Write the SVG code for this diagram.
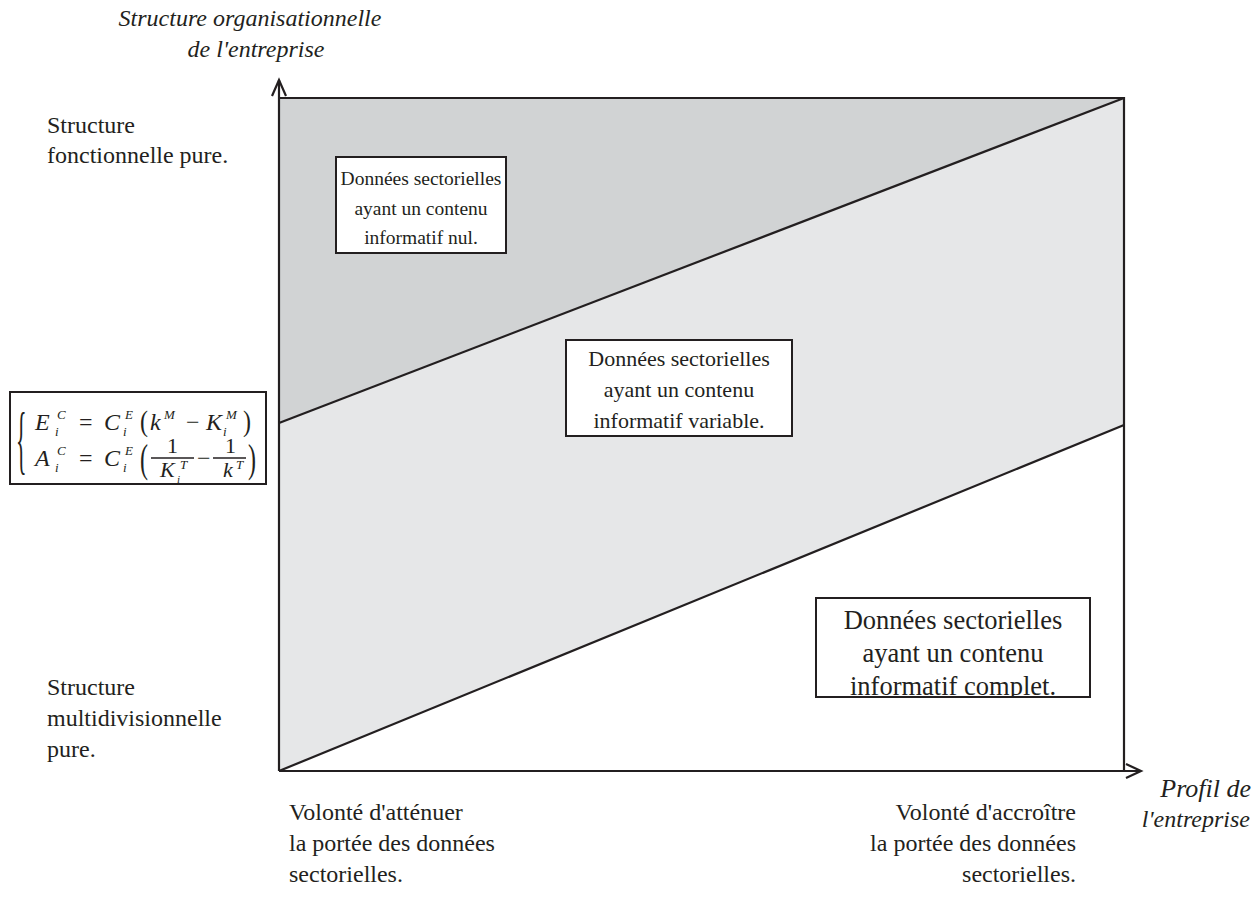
<svg xmlns="http://www.w3.org/2000/svg" width="1254" height="899" viewBox="0 0 1254 899">
<style>
.t{font-family:"Liberation Serif","Times New Roman",serif;font-size:24px;fill:#231f20}
.b1{font-family:"Liberation Serif","Times New Roman",serif;font-size:19.5px;fill:#231f20}
.b2{font-family:"Liberation Serif","Times New Roman",serif;font-size:22px;fill:#231f20}
.b3{font-family:"Liberation Serif","Times New Roman",serif;font-size:26.5px;fill:#231f20}
.ti{font-family:"Liberation Serif","Times New Roman",serif;font-size:24px;font-style:italic;fill:#231f20}
.tp{font-family:"Liberation Serif","Times New Roman",serif;font-size:26px;font-style:italic;fill:#231f20}
.m{font-family:"Liberation Serif","Times New Roman",serif;font-size:24px;font-style:italic;fill:#231f20}
.mf{font-family:"Liberation Serif","Times New Roman",serif;font-size:22px;font-style:italic;fill:#231f20}
.s{font-family:"Liberation Serif","Times New Roman",serif;font-size:13px;font-style:italic;fill:#231f20}
.ss{font-family:"Liberation Serif","Times New Roman",serif;font-size:11px;font-style:italic;fill:#231f20}
.r{font-family:"Liberation Serif","Times New Roman",serif;font-size:24px;fill:#231f20}
.rf{font-family:"Liberation Serif","Times New Roman",serif;font-size:22px;fill:#231f20}
.ln{stroke:#231f20;stroke-width:2.2;fill:none}
.box{fill:#fff;stroke:#231f20;stroke-width:2}
.bar{stroke:#231f20;stroke-width:1.3}
</style>
<defs>
<clipPath id="clip3"><rect x="816" y="598" width="274" height="98"/></clipPath>
</defs>
<rect width="1254" height="899" fill="#fff"/>
<g id="regions">
<polygon points="279,98 1124,98 279,423" fill="#d1d3d4"/>
<polygon points="279,423 1124,98 1124,425 279,771" fill="#e6e7e8"/>
</g>
<g id="connectors">
<line class="ln" x1="279" y1="80" x2="279" y2="771"/>
<polyline class="ln" points="272,96 279,80 286,96"/>
<line class="ln" x1="279" y1="771" x2="1141" y2="771"/>
<polyline class="ln" points="1126,764 1141,771 1126,778"/>
<polyline class="ln" points="279,98 1124,98 1124,771"/>
<line class="ln" x1="279" y1="423" x2="1124" y2="98"/>
<line class="ln" x1="279" y1="771" x2="1124" y2="425"/>
</g>
<g id="axis-y-title">
<text class="ti" x="250" y="26" text-anchor="middle">Structure organisationnelle</text>
<text class="ti" x="256" y="57" text-anchor="middle">de l'entreprise</text>
</g>
<g id="axis-x-title">
<text class="tp" x="1251" y="797" text-anchor="end">Profil de</text>
<text class="ti" x="1250" y="827" text-anchor="end">l'entreprise</text>
</g>
<g id="label-top">
<text class="t" x="47" y="133">Structure</text>
<text class="t" x="47" y="163">fonctionnelle pure.</text>
</g>
<g id="label-bottom">
<text class="t" x="47" y="695">Structure</text>
<text class="t" x="47" y="726">multidivisionnelle</text>
<text class="t" x="47" y="757">pure.</text>
</g>
<g id="label-left-bottom">
<text class="t" x="289" y="820">Volonté d'atténuer</text>
<text class="t" x="289" y="851">la portée des données</text>
<text class="t" x="289" y="882">sectorielles.</text>
</g>
<g id="label-right-bottom">
<text class="t" x="1076" y="820" text-anchor="end">Volonté d'accroître</text>
<text class="t" x="1076" y="851" text-anchor="end">la portée des données</text>
<text class="t" x="1076" y="882" text-anchor="end">sectorielles.</text>
</g>
<g id="box-nul">
<rect class="box" x="336" y="157" width="170" height="96"/>
<text class="b1" x="421" y="185" text-anchor="middle">Données sectorielles</text>
<text class="b1" x="421" y="215" text-anchor="middle">ayant un contenu</text>
<text class="b1" x="421" y="244" text-anchor="middle">informatif nul.</text>
</g>
<g id="box-variable">
<rect class="box" x="566" y="340" width="226" height="96"/>
<text class="b2" x="679" y="366" text-anchor="middle">Données sectorielles</text>
<text class="b2" x="679" y="397" text-anchor="middle">ayant un contenu</text>
<text class="b2" x="679" y="428" text-anchor="middle">informatif variable.</text>
</g>
<g id="box-complet">
<rect class="box" x="816" y="598" width="274" height="99"/>
<g clip-path="url(#clip3)">
<text class="b3" x="953" y="629" text-anchor="middle">Données sectorielles</text>
<text class="b3" x="953" y="662" text-anchor="middle">ayant un contenu</text>
<text class="b3" x="953" y="695" text-anchor="middle">informatif complet.</text>
</g>
</g>
<g id="formula">
<rect class="box" x="10" y="392" width="256" height="92"/>
<text class="rf" transform="translate(16,465) scale(1,3.5)">{</text>
<text class="m" x="35" y="430">E</text>
<text class="s" x="57" y="419">C</text>
<text class="s" x="55" y="436">i</text>
<text class="r" x="79" y="430">=</text>
<text class="m" x="104" y="430">C</text>
<text class="s" x="125" y="419">E</text>
<text class="s" x="123" y="436">i</text>
<text class="r" transform="translate(140,431) scale(1,1.2)">(</text>
<text class="m" x="150" y="430">k</text>
<text class="s" x="164" y="419">M</text>
<text class="r" x="186" y="430">−</text>
<text class="m" x="206" y="430">K</text>
<text class="s" x="226" y="419">M</text>
<text class="s" x="223" y="436">i</text>
<text class="r" transform="translate(243,431) scale(1,1.2)">)</text>
<text class="m" x="35" y="466">A</text>
<text class="s" x="57" y="455">C</text>
<text class="s" x="55" y="472">i</text>
<text class="r" x="79" y="466">=</text>
<text class="m" x="104" y="466">C</text>
<text class="s" x="125" y="455">E</text>
<text class="s" x="123" y="472">i</text>
<text class="r" transform="translate(140,472) scale(1,1.65)">(</text>
<text class="rf" x="167" y="453">1</text>
<line class="bar" x1="151" y1="458" x2="194" y2="458"/>
<text class="mf" x="160" y="477">K</text>
<text class="s" x="180" y="469">T</text>
<text class="ss" x="177" y="483">i</text>
<text class="r" x="197" y="466">−</text>
<text class="rf" x="225" y="453">1</text>
<line class="bar" x1="213" y1="458" x2="246" y2="458"/>
<text class="mf" x="223" y="477">k</text>
<text class="s" x="236" y="469">T</text>
<text class="r" transform="translate(248,472) scale(1,1.65)">)</text>
</g>
</svg>
